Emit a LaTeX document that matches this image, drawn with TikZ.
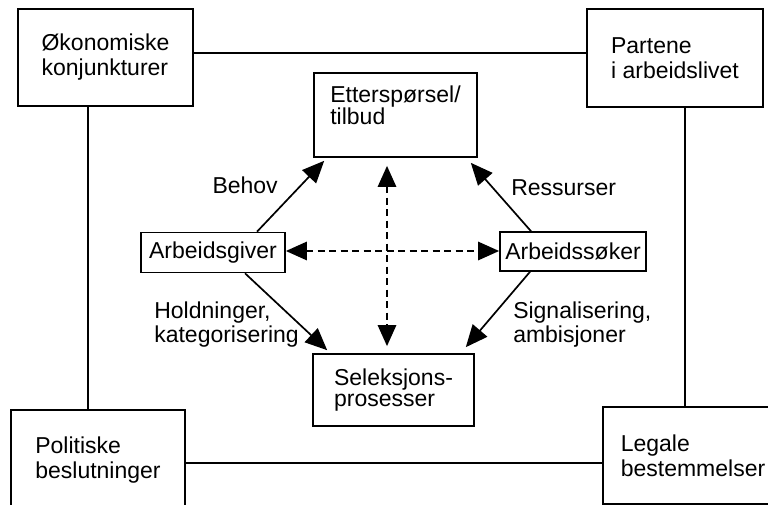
\documentclass[tikz,border=0pt]{standalone}
\usepackage{fontspec}
\setmainfont{Liberation Sans}
\usetikzlibrary{arrows.meta}

\begin{document}
\begin{tikzpicture}[
    x=1pt, y=-1pt,
    every node/.style={font=\fontsize{23}{25}\selectfont},
    box/.style={rectangle, draw, line width=1.6pt, align=left, inner sep=2pt},
    bigbox/.style={box, minimum width=175pt, minimum height=97pt},
    smallbox/.style={box, minimum width=144pt, minimum height=40pt},
    lbl/.style={align=left, inner sep=2pt, font=\fontsize{23}{24}\selectfont},
    link/.style={line width=1.4pt},
    arrow/.style={-{Triangle[length=22pt, width=19pt]}, line width=1.7pt},
    darrow/.style={{Triangle[length=21pt, width=18pt]}-{Triangle[length=21pt, width=18pt]}, line width=2.8pt, dash pattern=on 7pt off 4.5pt}
]
\useasboundingbox (0,0) rectangle (768,505);

% YTRE RAMME
\node[bigbox] (A) at (105.5,57.5) {Økonomiske\\konjunkturer};
\node[bigbox, minimum width=176pt, minimum height=98pt] (B) at (675,58) {Partene\\i arbeidslivet};
\node[bigbox, minimum width=174pt, minimum height=100pt] (C) at (98,460) {Politiske\\beslutninger};
\node[bigbox, minimum width=180pt] (D) at (693,455.5) {Legale\\bestemmelser};

% INDRE MODELL
\node[box, minimum width=163pt, minimum height=84pt, font=\fontsize{23}{19.5}\selectfont] (E) at (395.5,115) {Etterspørsel/\\tilbud\\\mbox{}};
\node[smallbox] (F) at (213,252.5) {Arbeidsgiver};
\node[smallbox, minimum width=146pt, minimum height=39pt] (G) at (573,251.5) {Arbeidssøker};
\node[box, minimum width=161pt, minimum height=72pt, font=\fontsize{23}{21}\selectfont] (H) at (393.5,390) {Seleksjons-\\prosesser};

% Ytre forbindelser
\draw[link] ([yshift=4.5pt]A.east) -- ([yshift=4.5pt]A.east -| B.west);
\draw[link] (A.south -| 88,0) -- (C.north -| 88,0);
\draw[link] (B.south -| 685,0) -- (D.north -| 685,0);
\draw[link, line width=2.6pt] ([yshift=-3pt]C.east) -- ([yshift=-3pt]C.east -| D.west);

% Piler
\draw[arrow] ([xshift=44pt]F.north) -- node[lbl, anchor=south east, xshift=-10pt] {Behov} ([xshift=11pt, yshift=-3pt]E.south west);
\draw[arrow] ([xshift=-42pt]G.north) -- node[lbl, anchor=south west, xshift=7.5pt, yshift=-2pt] {Ressurser} ([xshift=-7pt, yshift=-5pt]E.south east);
\draw[arrow] ([xshift=32pt]F.south) -- node[lbl, anchor=east, xshift=15.5pt, yshift=-13pt] {Holdninger,\\kategorisering} ([xshift=15pt, yshift=3pt]H.north west);
\draw[arrow] ([xshift=-43pt]G.south) -- node[lbl, anchor=west, xshift=12.5pt, yshift=-15.5pt] {Signalisering,\\ambisjoner} ([xshift=-9pt, yshift=6pt]H.north east);
\draw[darrow] ([xshift=-8.5pt, yshift=-8pt]E.south) -- ([xshift=-6.5pt, yshift=7pt]H.north);
\draw[darrow] ([yshift=1.5pt]F.east) -- ([yshift=1.5pt]F.east -| G.west);

\end{tikzpicture}
\end{document}
